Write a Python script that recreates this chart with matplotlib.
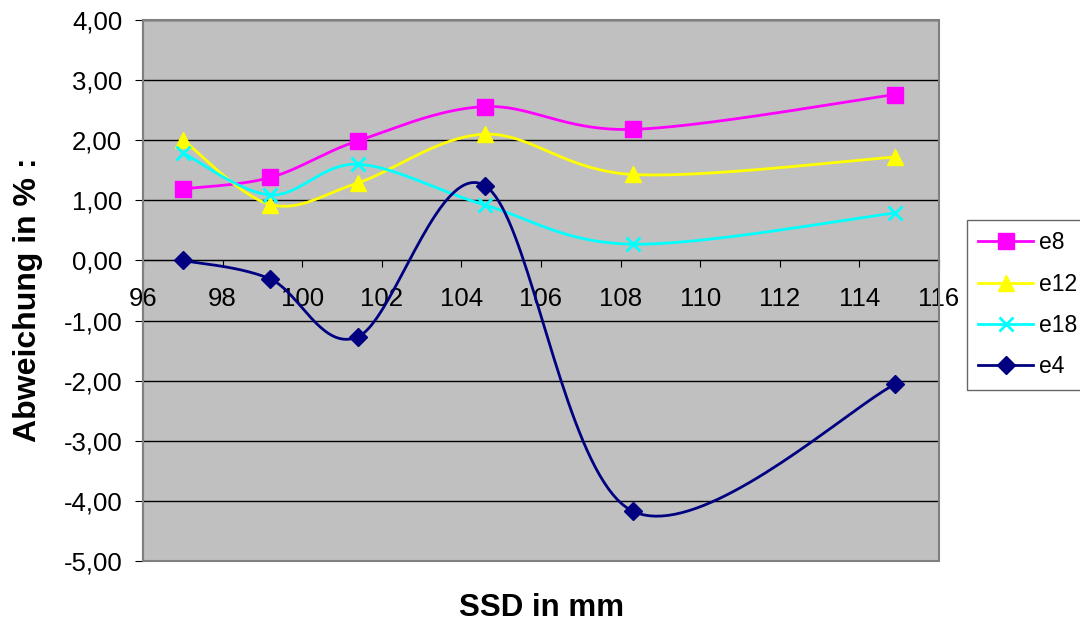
import numpy as np
import matplotlib.pyplot as plt
from matplotlib.patches import Rectangle

plt.rcParams['font.family'] = ['Liberation Sans', 'DejaVu Sans']

# SSD positions (mm) and deviations (%) per electron energy
ssd = [97.0, 99.2, 101.4, 104.6, 108.3, 114.9]
e8 = [1.19, 1.38, 1.99, 2.56, 2.18, 2.76]
e12 = [2.01, 0.93, 1.29, 2.10, 1.43, 1.72]
e18 = [1.79, 1.09, 1.60, 0.92, 0.27, 0.79]
e4 = [0.00, -0.31, -1.27, 1.24, -4.17, -2.06]

series = [
    ('e8', e8, '#FF00FF', 's', 11),
    ('e12', e12, '#FFFF00', '^', 11),
    ('e18', e18, '#00FFFF', 'x', 10),
    ('e4', e4, '#000080', 'D', 9.5),
]


def smooth(x, y, n=40):
    # cubic bezier through the points, catmull-rom style tangents
    p = np.column_stack([x, y]).astype(float)
    pts = []
    for i in range(len(p) - 1):
        p0 = p[i - 1] if i > 0 else p[i]
        p1, p2 = p[i], p[i + 1]
        p3 = p[i + 2] if i + 2 < len(p) else p[i + 1]
        c1 = p1 + (p2 - p0) / 6
        c2 = p2 - (p3 - p1) / 6
        t = np.linspace(0, 1, n, endpoint=False)[:, None]
        seg = ((1 - t) ** 3 * p1 + 3 * (1 - t) ** 2 * t * c1
               + 3 * (1 - t) * t ** 2 * c2 + t ** 3 * p2)
        pts.append(seg)
    pts.append(p[-1:])
    pts = np.vstack(pts)
    marks = [i * n for i in range(len(p))]
    return pts[:, 0], pts[:, 1], marks


fig = plt.figure(figsize=(10.8, 6.25), dpi=100)
ax = fig.add_axes([143 / 1080, 1 - 561 / 625, (939 - 143) / 1080, (561 - 20) / 625])
ax.set_facecolor('#C0C0C0')

for name, vals, col, mk, ms in series:
    sx, sy, marks = smooth(ssd, vals)
    mew = 2 if mk == 'x' else 1
    ax.plot(sx, sy, color=col, lw=2, marker=mk, ms=ms, markevery=marks,
            mfc=col, mec=col, mew=mew, label=name, zorder=3)

ax.set_xlim(96, 116)
ax.set_ylim(-5, 4)
ax.set_xticks(np.arange(96, 117, 2))
ax.set_yticks(np.arange(-5, 5, 1))
ax.set_yticklabels([f'{v:.2f}'.replace('.', ',') for v in np.arange(-5, 5, 1)])
ax.yaxis.grid(True, color='black', lw=1)
ax.set_axisbelow(True)

# x axis crosses at zero
for s in ['top', 'right']:
    ax.spines[s].set_visible(False)
ax.spines['bottom'].set_position(('data', 0))
ax.spines['bottom'].set_color('black')
ax.spines['left'].set_color('#808080')
ax.spines['left'].set_linewidth(1.5)
ax.add_patch(Rectangle((0, 0), 1, 1, transform=ax.transAxes, fill=False,
                       ec='#808080', lw=1.5, zorder=5, clip_on=False))

ax.tick_params(axis='x', direction='out', length=5, color='black', pad=14, labelsize=18.5)
ax.tick_params(axis='y', direction='out', length=6, color='black', pad=9, labelsize=18.5)

fig.text(28.5 / 1080, 1 - 299.5 / 625, 'Abweichung in % :', fontsize=23,
         fontweight='bold', rotation=90, ha='center', va='center')
fig.text(542 / 1080, 1 - 608 / 625, 'SSD in mm', fontsize=22.5, fontweight='bold',
         ha='center', va='center')

# legend box runs off the right edge
leg = fig.legend(loc='upper left', mode='expand',
                 bbox_to_anchor=(967 / 1080, 1 - 220 / 625, 0.2, 0),
                 bbox_transform=fig.transFigure, borderaxespad=0, fontsize=16.5,
                 frameon=True, fancybox=False, handlelength=2.4, labelspacing=0.8,
                 borderpad=0.5, handletextpad=0.25)
leg.get_frame().set_edgecolor('#404040')
leg.get_frame().set_linewidth(1)

fig.savefig('out.png', dpi=100)
